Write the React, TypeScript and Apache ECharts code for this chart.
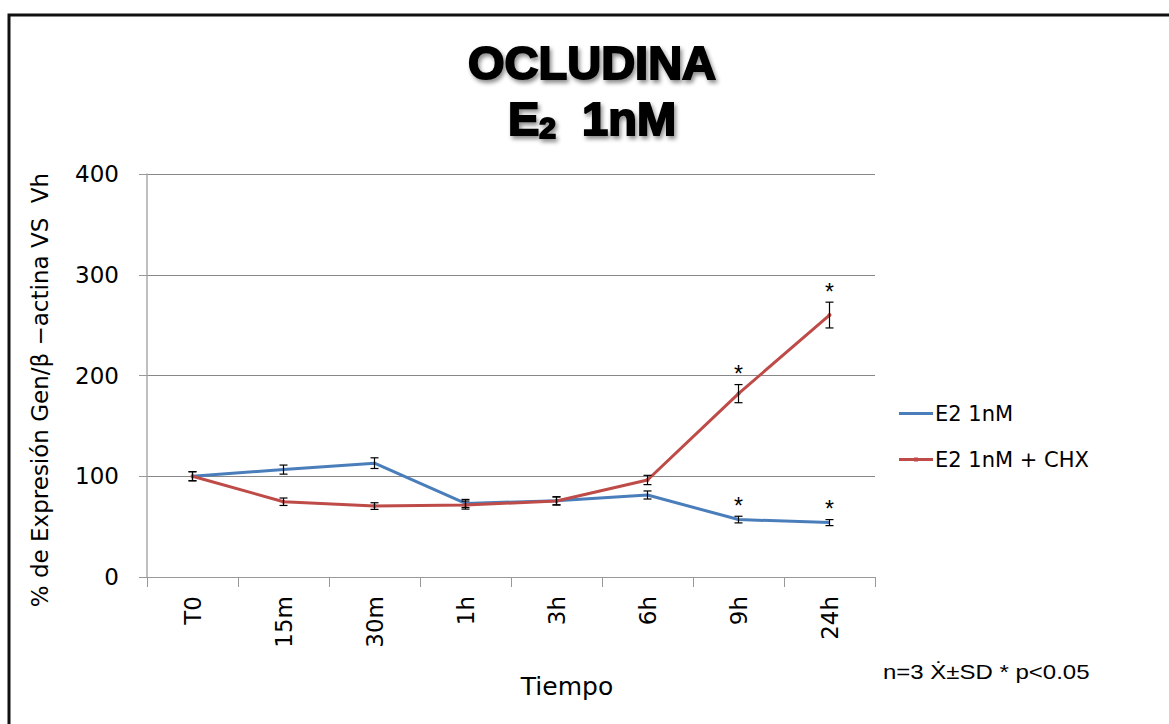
import React, { useEffect, useRef } from "react";
import * as echarts from "echarts";

const categories = ["T0", "15m", "30m", "1h", "3h", "6h", "9h", "24h"];
const e2Values = [100, 106.6, 113, 73, 75.7, 81.4, 57, 54];
const e2Errors = [4.5, 4.5, 5.3, 4, 4, 4, 3.3, 3];
const e2Sig = [false, false, false, false, false, false, true, true];
const chxValues = [100, 74.7, 70.4, 71.4, 75.4, 96.3, 182, 260];
const chxErrors = [4.5, 3.7, 3.3, 4, 4, 4.6, 9, 12.8];
const chxSig = [false, false, false, false, false, false, true, true];
const yTicks = [0, 100, 200, 300, 400];

const FONT = "'DejaVu Sans', 'Noto Sans', sans-serif";
const ARIAL = "'Liberation Sans', Arial, sans-serif";
const BLUE = "#4a7ebb";
const RED = "#be4b48";

function errData(vals: number[], errs: number[], sig: boolean[]) {
  return vals.map((v, i) => [i, v - errs[i], v + errs[i], sig[i] ? 1 : 0]);
}

const errRender = (params: any, api: any) => {
  const x = api.value(0);
  const lo = api.coord([x, api.value(1)]);
  const hi = api.coord([x, api.value(2)]);
  const w = 4;
  const st = { stroke: "#000", lineWidth: 1.2 };
  const children: any[] = [
    { type: "line", shape: { x1: lo[0], y1: lo[1], x2: hi[0], y2: hi[1] }, style: st },
    { type: "line", shape: { x1: lo[0] - w, y1: lo[1], x2: lo[0] + w, y2: lo[1] }, style: st },
    { type: "line", shape: { x1: hi[0] - w, y1: hi[1], x2: hi[0] + w, y2: hi[1] }, style: st },
  ];
  if (api.value(3) === 1) {
    children.push({
      type: "text",
      x: hi[0],
      y: hi[1] + 1,
      style: {
        text: "*",
        fontSize: 23,
        fontFamily: ARIAL,
        fill: "#000",
        align: "center",
        verticalAlign: "bottom",
      },
    });
  }
  return { type: "group", children };
};

const SHADOW = {
  textShadowColor: "rgba(0,0,0,0.45)",
  textShadowBlur: 4,
  textShadowOffsetX: 2,
  textShadowOffsetY: 3,
};

export default function App() {
  const ref = useRef<HTMLDivElement>(null);
  useEffect(() => {
    if (!ref.current) return;
    const chart = echarts.init(ref.current, null, { renderer: "svg" });
    chart.setOption({
      animation: false,
      backgroundColor: "#fff",
      grid: { left: 147, right: 294, top: 174, bottom: 147, containLabel: false },
      legend: {
        orient: "vertical",
        left: 894,
        top: 398,
        itemGap: 25,
        itemWidth: 34,
        itemHeight: 12,
        textStyle: { fontSize: 21, fontFamily: FONT, color: "#000", padding: [0, 0, 0, -3] },
        data: [
          { name: "E2 1nM", icon: "path://M0,5 L34,5 L34,8 L0,8 Z" },
          {
            name: "E2 1nM + CHX",
            icon: "path://M0,5 L15,5 L15,4.5 L19,4.5 L19,5 L34,5 L34,8 L19,8 L19,8.5 L15,8.5 L15,8 L0,8 Z",
          },
        ],
      },
      xAxis: {
        type: "category",
        data: categories,
        boundaryGap: true,
        axisLine: { lineStyle: { color: "#999", width: 1.2 } },
        axisTick: { show: true, length: 10, lineStyle: { color: "#999" } },
        axisLabel: {
          rotate: 90,
          fontSize: 23,
          fontFamily: FONT,
          color: "#000",
          margin: 19,
        },
        splitLine: { show: false },
      },
      yAxis: {
        type: "value",
        min: 0,
        max: 400,
        interval: 100,
        axisLine: { show: true, lineStyle: { color: "#aaa", width: 1.5 } },
        axisTick: { show: true, length: 8, lineStyle: { color: "#999" } },
        axisLabel: {
          fontSize: 23,
          fontFamily: FONT,
          color: "#000",
          margin: 28,
          formatter: (v: number) => (yTicks.includes(v) ? String(v) : ""),
        },
        splitLine: { lineStyle: { color: "#888", width: 1 } },
      },
      graphic: [
        {
          type: "rect",
          shape: { x: 9, y: 15, width: 1200, height: 760 },
          style: { fill: "none", stroke: "#111", lineWidth: 3 },
          z: 100,
        },
        {
          type: "text",
          x: 592,
          y: 62,
          style: {
            text: "OCLUDINA",
            fontSize: 47,
            fontWeight: "bold",
            fontFamily: ARIAL,
            fill: "#000",
            stroke: "#000",
            lineWidth: 2,
            align: "center",
            verticalAlign: "middle",
            ...SHADOW,
          },
        },
        {
          type: "text",
          x: 592,
          y: 118,
          style: {
            rich: {
              b: { fontSize: 47, fontWeight: "bold", fontFamily: ARIAL, fill: "#000", stroke: "#000", lineWidth: 2, ...SHADOW },
              s: {
                fontSize: 30,
                fontWeight: "bold",
                fontFamily: ARIAL,
                fill: "#000",
                stroke: "#000",
                lineWidth: 2,
                padding: [18, 0, 0, 0],
                ...SHADOW,
              },
            },
            text: "{b|E}{s|2}{b|  1nM}",
            align: "center",
            verticalAlign: "middle",
          },
        },
        {
          type: "text",
          x: 567,
          y: 686,
          style: {
            text: "Tiempo",
            fontSize: 25,
            fontFamily: FONT,
            fill: "#000",
            align: "center",
            verticalAlign: "middle",
          },
        },
        {
          type: "text",
          x: 40,
          y: 390,
          rotation: Math.PI / 2,
          style: {
            text: "% de Expresión Gen/β −actina VS  Vh",
            fontSize: 23,
            fontFamily: FONT,
            fill: "#000",
            align: "center",
            verticalAlign: "middle",
          },
        },
        {
          type: "text",
          x: 883,
          y: 672,
          scaleX: 1.2,
          style: {
            text: "n=3 Ẋ±SD * p<0.05",
            fontSize: 20,
            fontFamily: ARIAL,
            fill: "#000",
            align: "left",
            verticalAlign: "middle",
          },
        },
      ],
      series: [
        {
          name: "E2 1nM",
          type: "line",
          data: e2Values,
          symbol: "none",
          lineStyle: { color: BLUE, width: 3 },
          itemStyle: { color: BLUE },
          z: 3,
        },
        {
          name: "E2 1nM + CHX",
          type: "line",
          data: chxValues,
          symbol: "circle",
          symbolSize: 4,
          lineStyle: { color: RED, width: 3 },
          itemStyle: { color: RED },
          z: 4,
        },
        {
          name: "errE2",
          type: "custom",
          renderItem: errRender,
          data: errData(e2Values, e2Errors, e2Sig),
          encode: { x: 0, y: [1, 2] },
          z: 10,
        },
        {
          name: "errCHX",
          type: "custom",
          renderItem: errRender,
          data: errData(chxValues, chxErrors, chxSig),
          encode: { x: 0, y: [1, 2] },
          z: 10,
        },
      ],
    });
    return () => chart.dispose();
  }, []);
  return <div ref={ref} style={{ width: 1169, height: 724, position: "absolute", left: 0, top: 0 }} />;
}
